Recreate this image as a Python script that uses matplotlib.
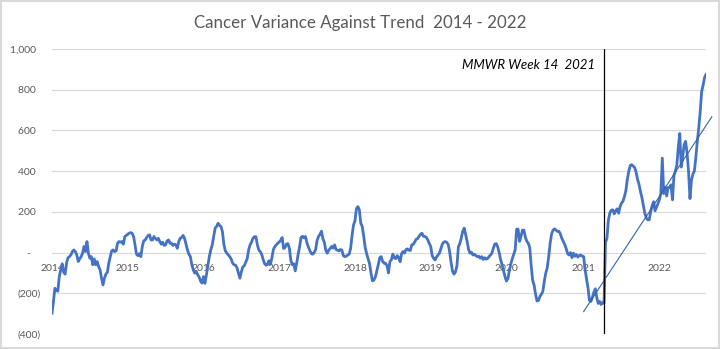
import matplotlib
matplotlib.use("Agg")
import matplotlib.pyplot as plt
import numpy as np

# Weekly variance of cancer deaths against trend, one list per MMWR year
variance_2014 = [
    -298, -240, -175, -185, -190, -118, -85, -55, -97, -106,
    -50, -25, -20, -11, 5, 13, 5, -11, -44, -31,
    -20, -3, 30, 5, 54, -3, -28, -20, -60, -31,
    -60, -44, -69, -85, -126, -159, -126, -106, -97, -52,
    -20, 8, 13, 5, 8, 46, 54, 51, 54, 41,
    79, 84,
]
variance_2015 = [
    90, 95, 98, 95, 79, 38, -8, -15, -5, -20,
    30, 58, 62, 74, 84, 87, 62, 62, 79, 70,
    62, 70, 54, 41, 51, 35, 38, 57, 62, 46,
    46, 35, 41, 38, 21, 54, 70, 74, 84, 70,
    41, 13, -8, -20, -60, -85, -101, -93, -108, -120,
    -140, -150,
]
variance_2016 = [
    -118, -151, -110, -65, -20, 13, 37, 79, 120, 128,
    144, 133, 128, 103, 40, 8, -3, -11, -20, -31,
    -52, -60, -62, -75, -101, -126, -95, -70, -65, -48,
    -30, 13, 38, 52, 70, 78, 78, 38, 12, 5,
    -10, -35, -55, -62, -58, -40, -58, -25, 15, 30,
    38, 46,
]
variance_2017 = [
    52, 60, 74, 20, 25, 42, 44, 20, -40, -60,
    -55, -90, -52, -8, 30, 75, 80, 72, 79, 48,
    28, 10, -5, -8, 0, 15, 60, 79, 90, 105,
    68, 50, 10, -3, 12, 20, 30, 22, 38, 15,
    12, 8, 15, 12, -15, -20, -18, -12, -8, 20,
    83, 136,
]
variance_2018 = [
    155, 215, 226, 210, 144, 128, 80, 25, -5, -30,
    -55, -100, -139, -135, -120, -90, -60, -25, -20, -44,
    -52, -52, -65, -100, -44, -35, -8, -25, -30, -15,
    -25, -45, -5, 5, -3, 15, 18, 12, 10, 38,
    40, 52, 65, 68, 80, 90, 95, 80, 79, 75,
    62, 45,
]
variance_2019 = [
    30, -15, -28, -36, -22, -12, -3, 20, 42, 52,
    54, 50, 40, 5, -50, -92, -106, -95, -65, 28,
    44, 72, 105, 120, 88, 55, 15, -3, 2, -12,
    -8, -15, -20, -18, -28, -20, -34, -25, -32, -30,
    -20, -12, -3, 21, 42, 44, 28, 0, -35, -60,
    -90, -118,
]
variance_2020 = [
    -140, -128, -90, -55, -30, -8, 13, 115, 115, 55,
    80, 110, 110, 75, 55, 45, 25, -65, -137, -160,
    -205, -238, -235, -215, -205, -190, -140, -100, -75, -20,
    46, 92, 110, 117, 110, 104, 105, 92, 70, 55,
    40, 20, -5, -12, 0, -25, -3, -18, -10, -22,
    -15, -12, -17,
]
variance_2021 = [
    -20, -85, -130, -175, -235, -240, -220, -195, -178, -220,
    -250, -240, -255, -245, -250, 50, 70, 160, 195, 208,
    210, 190, 205, 215, 193, 225, 243, 252, 275, 305,
    360, 400, 428, 432, 425, 418, 395, 360, 335, 300,
    270, 230, 193, 170, 161, 161, 200, 230, 250, 205,
    222, 240,
]
variance_2022 = [
    260, 290, 464, 290, 320, 278, 320, 320, 333, 259,
    380, 400, 430, 520, 585, 420, 470, 530, 546, 490,
    400, 265, 355, 385, 400, 465, 545, 610, 690, 790,
    822, 860, 875,
]

years = ["2014", "2015", "2016", "2017", "2018", "2019", "2020", "2021", "2022"]
yearly = [variance_2014, variance_2015, variance_2016, variance_2017,
          variance_2018, variance_2019, variance_2020, variance_2021,
          variance_2022]

y_ticks = [-400, -200, 0, 200, 400, 600, 800, 1000]
y_tick_labels = ["(400)", "(200)", "-    ", "200  ", "400  ", "600  ", "800  ", "1,000  "]

event_year = "2021"
event_week = 14
event_label = "MMWR Week 14  2021"

# linear trend drawn from the start of 2021, forecast a few weeks past the data
trend_values = [-290, 667]
trend_forecast_weeks = 4

values = np.concatenate([np.asarray(v, dtype=float) for v in yearly])
weeks = np.arange(len(values))
year_starts = np.concatenate([[0], np.cumsum([len(v) for v in yearly])[:-1]])
event_index = year_starts[years.index(event_year)] + event_week
trend_x = [year_starts[years.index(event_year)], weeks[-1] + trend_forecast_weeks]

plt.rcParams["font.family"] = ["Lato", "DejaVu Sans"]
text_color = "#595959"

fig = plt.figure(figsize=(7.2, 3.49), dpi=100)
fig.patch.set_facecolor("white")
fig.patch.set_edgecolor("#d9d9d9")
fig.patch.set_linewidth(1.5)

ax = fig.add_axes([52 / 720, 1 - 334 / 349, 654 / 720, 285 / 349])
ax.set_xlim(0, weeks[-1])
ax.set_ylim(-400, 1000)

ax.set_yticks(y_ticks)
ax.set_yticklabels(y_tick_labels)
ax.grid(axis="y", color="#d9d9d9", linewidth=0.8)
ax.set_axisbelow(True)

ax.set_xticks(year_starts)
ax.set_xticklabels(years)

for side in ("top", "right", "left"):
    ax.spines[side].set_visible(False)
ax.spines["bottom"].set_position(("data", 0))
ax.spines["bottom"].set_visible(False)

ax.tick_params(axis="y", length=0, pad=8, labelsize=7.5, labelcolor=text_color)
ax.tick_params(axis="x", length=0, pad=8, labelsize=7.5, labelcolor=text_color)

ax.plot(weeks, values, color="#4472C4", linewidth=2.0, solid_joinstyle="round", zorder=3)
ax.plot(trend_x, trend_values, color="#3A62AA", linewidth=0.8, clip_on=False, zorder=4)
ax.axvline(event_index, color="black", linewidth=0.9, zorder=5)
ax.text(event_index - 6, 922, event_label, ha="right", va="center",
        fontsize=9.5, style="italic", color="black")

fig.text(0.5, 1 - 23 / 349, "Cancer Variance Against Trend  2014 - 2022",
         ha="center", va="center", fontsize=12.2, color=text_color)

fig.savefig("out.png", dpi=100)
